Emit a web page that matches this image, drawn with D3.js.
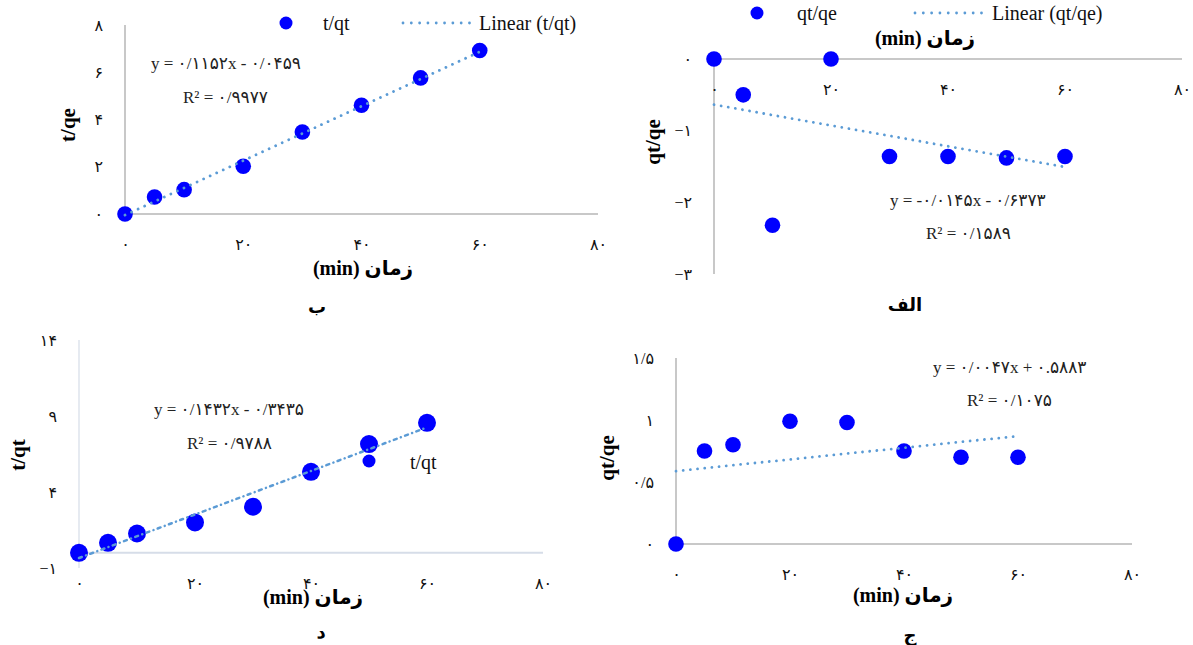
<!DOCTYPE html>
<html>
<head>
<meta charset="utf-8">
<script src="https://cdn.jsdelivr.net/npm/d3@7"></script>
<style>
  body { margin: 0; background: #fff; }
  svg text { font-family: "Liberation Serif", "Times New Roman", "DejaVu Sans", serif; }
</style>
</head>
<body>
<svg id="chart" width="1193" height="645"></svg>
<script>
// time values shared by all four plots
var timeMin = [0, 5, 10, 20, 30, 40, 50, 60];
var xTicks = [0, 20, 40, 60, 80];

// الف : qt/qe
var qtqeA = [0, -0.5, -2.32, 0, -1.36, -1.36, -1.38, -1.36];
var fitA = [-0.0145, -0.6373];
var eqA = "y = -۰/۰۱۴۵x - ۰/۶۳۷۳";
var r2A = "R² = ۰/۱۵۸۹";
var yTicksA = [-3, -2, -1, 0];

// ب : t/qt
var tqtB = [0, 0.72, 1.03, 2.02, 3.47, 4.6, 5.76, 6.92];
var fitB = [0.1152, -0.0459];
var eqB = "y = ۰/۱۱۵۲x - ۰/۰۴۵۹";
var r2B = "R² = ۰/۹۹۷۷";
var yTicksB = [0, 2, 4, 6, 8];

// ج : qt/qe
var qtqeC = [0, 0.75, 0.8, 0.99, 0.98, 0.75, 0.7, 0.7];
var fitC = [0.0047, 0.5883];
var eqC = "y = ۰/۰۰۴۷x + ۰.۵۸۸۳";
var r2C = "R² = ۰/۱۰۷۵";
var yTicksC = [0, 0.5, 1, 1.5];

// د : t/qt
var tqtD = [0, 0.66, 1.27, 2.0, 3.03, 5.33, 7.15, 8.55];
var fitD = [0.1432, -0.3435];
var eqD = "y = ۰/۱۴۳۲x - ۰/۳۴۳۵";
var r2D = "R² = ۰/۹۷۸۸";
var yTicksD = [-1, 4, 9, 14];

var xTitle = "زمان (min)";
var dotColor = "#0000ff";
var trendColor = "#5b9bd5";

var svg = d3.select("#chart");

var fa = function (v) {
    return String(v).replace("-", "−").replace(".", "/").replace(/\d/g, function (d) {
        return "۰۱۲۳۴۵۶۷۸۹"[d];
    });
};

drawPanel = function (p) {
    var x = d3.scaleLinear().domain([0, 80]).range([p.left, p.right]);
    var y = d3.scaleLinear().domain(p.yDomain).range([p.bottom, p.top]);
    var g = svg.append("g");

    // axis lines
    g.append("line")
        .attr("x1", x(0)).attr("x2", x(80))
        .attr("y1", y(0)).attr("y2", y(0))
        .attr("stroke", p.axisColor).attr("stroke-width", 2);
    g.append("line")
        .attr("x1", x(0)).attr("x2", x(0))
        .attr("y1", y(p.yDomain[0])).attr("y2", y(p.yDomain[1]))
        .attr("stroke", p.axisColor).attr("stroke-width", p.yAxisWidth || 2);

    // tick labels
    var ax = g.append("g")
        .attr("transform", "translate(0," + y(0) + ")")
        .call(d3.axisBottom(x).tickValues(xTicks).tickSize(0).tickPadding(25).tickFormat(fa));
    var ay = g.append("g")
        .attr("transform", "translate(" + x(0) + ",0)")
        .call(d3.axisLeft(y).tickValues(p.yTicks).tickSize(0).tickPadding(22).tickFormat(fa));
    [ax, ay].forEach(function (a) {
        a.select(".domain").remove();
        a.attr("font-family", null).attr("font-size", 16);
        a.selectAll("text").attr("fill", "#111");
    });

    // trendline (excel draws it on top of the markers)
    var fx = [0, 60];
    g.selectAll("circle.pt").data(p.values).enter().append("circle")
        .attr("class", "pt")
        .attr("cx", function (d, i) { return x(timeMin[i]); })
        .attr("cy", function (d) { return y(d); })
        .attr("r", p.r)
        .attr("fill", dotColor);

    g.append("line")
        .attr("x1", x(fx[0])).attr("y1", y(p.fit[0] * fx[0] + p.fit[1]))
        .attr("x2", x(fx[1])).attr("y2", y(p.fit[0] * fx[1] + p.fit[1]))
        .attr("stroke", trendColor).attr("stroke-width", p.trendWidth || 2.8)
        .attr("stroke-linecap", "round")
        .attr("stroke-dasharray", p.dash);

    // equation and R²
    g.append("text").attr("x", p.eqPos[0]).attr("y", p.eqPos[1])
        .attr("font-size", 17).attr("fill", "#222").text(p.eq);
    g.append("text").attr("x", p.r2Pos[0]).attr("y", p.r2Pos[1])
        .attr("font-size", 17).attr("fill", "#222").text(p.r2);

    // axis titles
    g.append("text")
        .attr("transform", "translate(" + p.yTitlePos[0] + "," + p.yTitlePos[1] + ") rotate(-90)")
        .attr("text-anchor", "middle").attr("dominant-baseline", "central")
        .attr("font-size", 21).attr("font-weight", "bold")
        .text(p.yTitle);
    g.append("text")
        .attr("x", p.xTitlePos[0]).attr("y", p.xTitlePos[1])
        .attr("text-anchor", "middle").attr("dominant-baseline", "central")
        .attr("direction", "rtl")
        .attr("font-size", 20).attr("font-weight", "bold")
        .text(xTitle);
    g.append("text")
        .attr("x", p.capPos[0]).attr("y", p.capPos[1])
        .attr("text-anchor", "middle").attr("dominant-baseline", "central")
        .attr("direction", "rtl")
        .attr("font-size", 18).attr("font-weight", "bold")
        .text(p.caption);

    // legend
    if (p.legend) {
        var L = p.legend;
        g.append("circle").attr("cx", L.dot[0]).attr("cy", L.dot[1]).attr("r", 6.5).attr("fill", dotColor);
        g.append("text").attr("x", L.label[0]).attr("y", L.label[1])
            .attr("font-size", 20).attr("dominant-baseline", "central").attr("fill", "#111")
            .text(L.name);
        if (L.line) {
            g.append("line")
                .attr("x1", L.line[0]).attr("x2", L.line[1])
                .attr("y1", L.dot[1]).attr("y2", L.dot[1])
                .attr("stroke", trendColor).attr("stroke-width", 2.8)
                .attr("stroke-linecap", "round").attr("stroke-dasharray", "0.01,8.3");
            g.append("text").attr("x", L.lineLabel).attr("y", L.label[1])
                .attr("font-size", 20).attr("dominant-baseline", "central").attr("fill", "#111")
                .text("Linear (" + L.name + ")");
        }
    }
};

// ب
drawPanel({
    values: tqtB, fit: fitB, eq: eqB, r2: r2B, yTicks: yTicksB,
    yDomain: [0, 8], left: 125, right: 598, top: 25, bottom: 214,
    axisColor: "#c8c8c8", r: 7.8, dash: "0.01,7.2",
    eqPos: [151, 69], r2Pos: [183, 103],
    yTitle: "t/qe", yTitlePos: [68, 125],
    xTitlePos: [363, 268], caption: "ب", capPos: [317, 307],
    legend: { name: "t/qt", dot: [286, 23], label: [323, 23], line: [403, 470], lineLabel: 479 }
});

// الف
drawPanel({
    values: qtqeA, fit: fitA, eq: eqA, r2: r2A, yTicks: yTicksA,
    yDomain: [-3, 0], left: 714, right: 1182, top: 59, bottom: 274,
    axisColor: "#c8c8c8", r: 7.8, dash: "0.01,7.2",
    eqPos: [890, 206], r2Pos: [926, 239],
    yTitle: "qt/qe", yTitlePos: [653, 142],
    xTitlePos: [925, 38], caption: "الف", capPos: [905, 305],
    legend: { name: "qt/qe", dot: [757, 13], label: [797, 13], line: [915, 982], lineLabel: 992 }
});

// د
drawPanel({
    values: tqtD, fit: fitD, eq: eqD, r2: r2D, yTicks: yTicksD,
    yDomain: [-1, 14], left: 79, right: 543, top: 340, bottom: 568,
    axisColor: "#d6dde8", yAxisWidth: 1.2, r: 9, trendWidth: 2.5, dash: "3,4.5,0.01,4.5",
    eqPos: [154, 415], r2Pos: [187, 449],
    yTitle: "t/qt", yTitlePos: [18, 455],
    xTitlePos: [313, 597], caption: "د", capPos: [321, 632],
    legend: { name: "t/qt", dot: [369, 461], label: [410, 462] }
});

// ج
drawPanel({
    values: qtqeC, fit: fitC, eq: eqC, r2: r2C, yTicks: yTicksC,
    yDomain: [0, 1.5], left: 676, right: 1132, top: 358, bottom: 544,
    axisColor: "#c8c8c8", r: 7.8, dash: "0.01,7.2",
    eqPos: [933, 373], r2Pos: [967, 406],
    yTitle: "qt/qe", yTitlePos: [607, 458],
    xTitlePos: [903, 595], caption: "ج", capPos: [910, 635]
});
</script>
</body>
</html>
